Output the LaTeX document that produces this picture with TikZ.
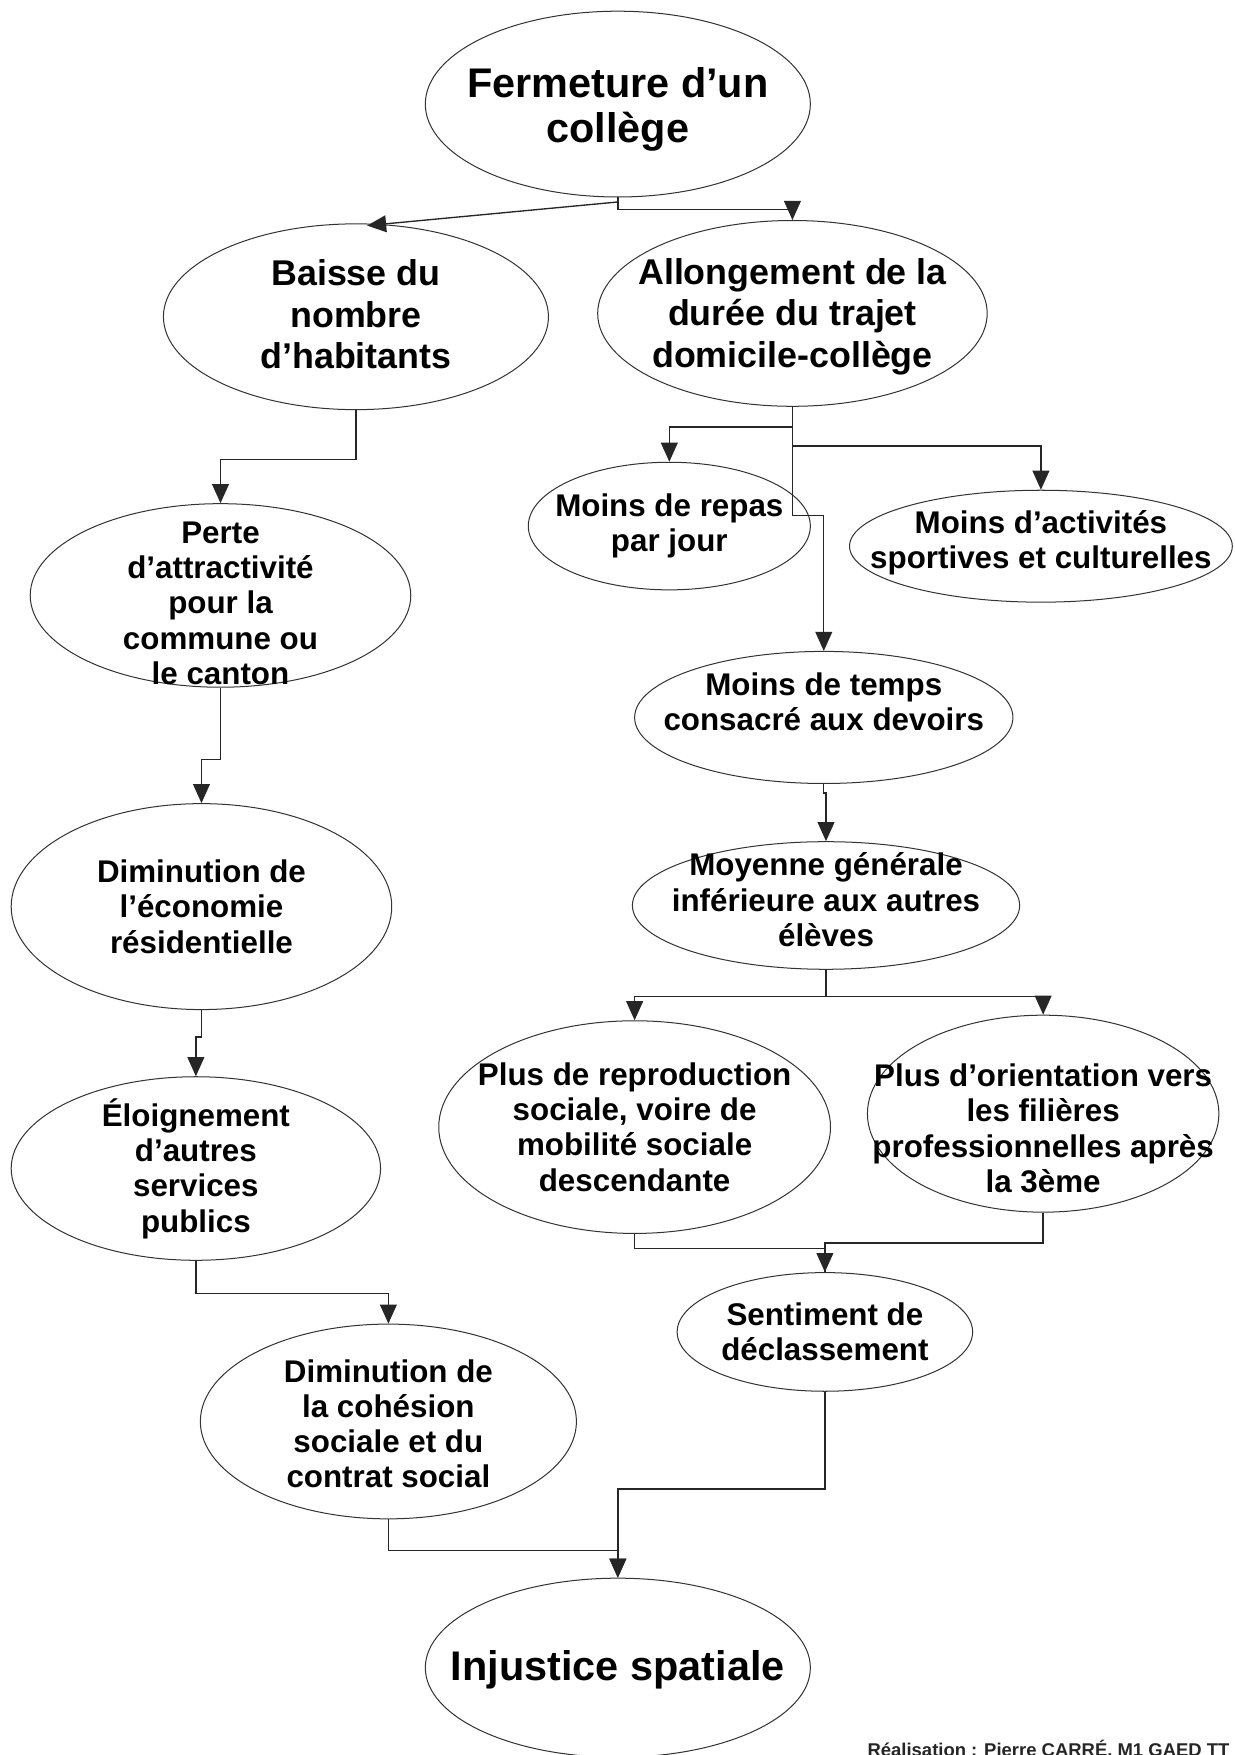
\documentclass[tikz,border=0pt]{standalone}
\usepackage{fontspec}
\setmainfont{Liberation Sans}
\usetikzlibrary{arrows.meta,shapes.geometric,calc}
\newcommand{\fsz}[2]{\fontsize{#1}{#2}\selectfont}
\tikzset{
  ell/.style={draw=black!80, line width=0.9pt, ellipse, inner sep=0pt},
  lbl/.style={align=center, text=black, font=\bfseries\fsz{28}{31.5}},
  big/.style={font=\bfseries\fsz{37}{40}},
  mid/.style={font=\bfseries\fsz{32}{37}},
  arr/.style={line width=1.2pt, draw=black!85, -{Triangle[width=15pt,length=17pt]}},
  seg/.style={line width=1.2pt, draw=black!85},
}
\begin{document}
\begin{tikzpicture}[x=1pt,y=-1pt]
\fill[white] (0,0) rectangle (1103,1568);
\useasboundingbox (0,0) rectangle (1103,1568);

% left branch
\node[ell, minimum width=344pt, minimum height=166pt,
  label={[lbl,big,yshift=-5pt]center:{Fermeture d’un\\collège}}] (fer) at (552,93) {};
\node[ell, minimum width=344pt, minimum height=166pt,
  label={[lbl,mid,yshift=2pt]center:{Baisse du\\nombre\\d’habitants}}] (baisse) at (318,283) {};
\node[ell, minimum width=348pt, minimum height=166pt,
  label={[lbl,mid,yshift=-3pt]center:{Allongement de la\\durée du trajet\\domicile-collège}}] (allong) at (708,280) {};
\node[ell, minimum width=340pt, minimum height=164pt,
  label={[lbl,yshift=-7pt]center:{Perte\\d’attractivité\\pour la\\commune ou\\le canton}}] (perte) at (197,532) {};
\node[ell, minimum width=340pt, minimum height=184pt,
  label={[lbl]center:{Diminution de\\l’économie\\résidentielle}}] (econ) at (180,810) {};
\node[ell, minimum width=330pt, minimum height=164pt,
  label={[lbl]center:{Éloignement\\d’autres\\services\\publics}}] (eloi) at (175,1044) {};
\node[ell, minimum width=336pt, minimum height=174pt,
  label={[lbl,yshift=-2pt]center:{Diminution de\\la cohésion\\sociale et du\\contrat social}}] (cohes) at (347,1270) {};
\node[ell, minimum width=344pt, minimum height=160pt,
  label={[lbl,big,yshift=-2pt]center:{Injustice spatiale}}] (inj) at (552,1490) {};

% right branch
\node[ell, minimum width=252pt, minimum height=114pt,
  label={[lbl]center:{Moins de repas\\par jour}}] (repas) at (598,470) {};
\node[ell, minimum width=342pt, minimum height=100pt,
  label={[lbl,yshift=3pt]center:{Moins d’activités\\sportives et culturelles}}] (activ) at (930,488) {};
\node[ell, minimum width=338pt, minimum height=118pt,
  label={[lbl,yshift=14pt]center:{Moins de temps\\consacré aux devoirs}}] (temps) at (736,641) {};
\node[ell, minimum width=346pt, minimum height=114pt,
  label={[lbl,yshift=5pt]center:{Moyenne générale\\inférieure aux autres\\élèves}}] (moy) at (738,809) {};
\node[ell, minimum width=350pt, minimum height=190pt,
  label={[lbl]center:{Plus de reproduction\\sociale, voire de\\mobilité sociale\\descendante}}] (repro) at (567,1007) {};
\node[ell, minimum width=314pt, minimum height=176pt,
  label={[lbl,yshift=-13pt]center:{Plus d’orientation vers\\les filières\\professionnelles après\\la 3ème}}] (orient) at (932,995) {};
\node[ell, minimum width=264pt, minimum height=106pt,
  label={[lbl]center:{Sentiment de\\déclassement}}] (sent) at (737,1190) {};

% connectors
\draw[arr] (fer.south) -- ++(0,11) -| (allong.north);
\draw[arr] ($(fer.south)+(0,4)$) -- ($(baisse.north)+(10,2)$);
\draw[arr] (baisse.south) -- ++(0,44) -| (perte.north);
\draw[arr] (perte.south) -- ++(0,64) -| (econ.north);
\draw[arr] (econ.south) -- ++(0,24) -| (eloi.north);
\draw[arr] (eloi.south) -- ++(0,29) -| (cohes.north);
\draw[arr] (cohes.south) -- ++(0,28) -| (inj.north);

\draw[arr] (allong.south) -- ++(0,18) -| (repas.north);
\draw[arr] (allong.south) -- ++(0,35) -| (activ.north);
\draw[arr] (allong.south) -- ++(0,97) -| (temps.north);
\draw[arr] (temps.south) -- ++(0,8) -| (moy.north);
\draw[arr] (moy.south) -- ++(0,24) -| (repro.north);
\draw[arr] (moy.south) -- ++(0,24) -| (orient.north);
\draw[seg] (repro.south) -- ++(0,13) -| (sent.north);
\draw[arr] (orient.south) -- ++(0,27) -| (sent.north);
\draw[arr] (sent.south) -- ++(0,87) -| (inj.north);

\node[anchor=base east, font=\bfseries\fsz{16.5}{20}, text=black!85] (foot) at (1102,1569) {Réalisation : Pierre CARRÉ, M1 GAED TT};
\end{tikzpicture}
\end{document}
